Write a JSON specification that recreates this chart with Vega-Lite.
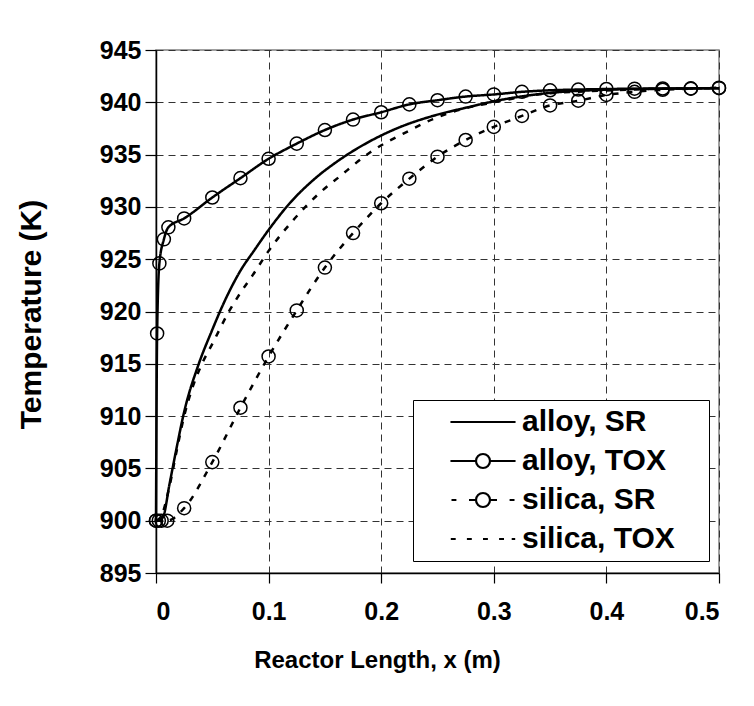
{
  "$schema": "https://vega.github.io/schema/vega-lite/v6.json",
  "width": 563,
  "height": 523,
  "autosize": "none",
  "padding": {"left": 156, "top": 50, "right": 35, "bottom": 133},
  "background": "white",
  "config": {
    "font": "Liberation Sans",
    "view": {"stroke": "#808080", "strokeWidth": 1.5},
    "axis": {
      "labelFont": "Liberation Sans",
      "labelFontWeight": "bold",
      "labelColor": "black",
      "titleFont": "Liberation Sans",
      "titleFontWeight": "bold",
      "titleColor": "black",
      "domainColor": "black",
      "domainWidth": 1.5,
      "tickColor": "black",
      "tickWidth": 1.2,
      "grid": true,
      "gridColor": "#333333",
      "gridDash": [7, 5],
      "gridWidth": 1
    },
    "legend": {"labelFont": "Liberation Sans"}
  },
  "data": {
    "values": [
      {"series": "alloy, SR", "x": 0, "T": 900},
      {"series": "alloy, SR", "x": 0.006, "T": 900.3},
      {"series": "alloy, SR", "x": 0.012, "T": 903.5},
      {"series": "alloy, SR", "x": 0.018, "T": 906.8},
      {"series": "alloy, SR", "x": 0.025, "T": 910.4},
      {"series": "alloy, SR", "x": 0.038, "T": 915.0},
      {"series": "alloy, SR", "x": 0.049, "T": 918.0},
      {"series": "alloy, SR", "x": 0.061, "T": 921.0},
      {"series": "alloy, SR", "x": 0.075, "T": 923.9},
      {"series": "alloy, SR", "x": 0.0876, "T": 925.9},
      {"series": "alloy, SR", "x": 0.1, "T": 927.8},
      {"series": "alloy, SR", "x": 0.12, "T": 930.5},
      {"series": "alloy, SR", "x": 0.14, "T": 932.6},
      {"series": "alloy, SR", "x": 0.163, "T": 934.5},
      {"series": "alloy, SR", "x": 0.187, "T": 936.1},
      {"series": "alloy, SR", "x": 0.216, "T": 937.6},
      {"series": "alloy, SR", "x": 0.246, "T": 938.7},
      {"series": "alloy, SR", "x": 0.276, "T": 939.5},
      {"series": "alloy, SR", "x": 0.305, "T": 940.2},
      {"series": "alloy, SR", "x": 0.35, "T": 940.9},
      {"series": "alloy, SR", "x": 0.4, "T": 941.2},
      {"series": "alloy, SR", "x": 0.45, "T": 941.3},
      {"series": "alloy, SR", "x": 0.5, "T": 941.35},

      {"series": "alloy, TOX", "x": 0, "T": 900},
      {"series": "alloy, TOX", "x": 0.001, "T": 917.9},
      {"series": "alloy, TOX", "x": 0.003, "T": 924.6},
      {"series": "alloy, TOX", "x": 0.007, "T": 926.9},
      {"series": "alloy, TOX", "x": 0.011, "T": 928.05},
      {"series": "alloy, TOX", "x": 0.025, "T": 928.9},
      {"series": "alloy, TOX", "x": 0.05, "T": 930.9},
      {"series": "alloy, TOX", "x": 0.075, "T": 932.75},
      {"series": "alloy, TOX", "x": 0.1, "T": 934.6},
      {"series": "alloy, TOX", "x": 0.125, "T": 936.05},
      {"series": "alloy, TOX", "x": 0.15, "T": 937.35},
      {"series": "alloy, TOX", "x": 0.175, "T": 938.35},
      {"series": "alloy, TOX", "x": 0.2, "T": 939.05},
      {"series": "alloy, TOX", "x": 0.225, "T": 939.8},
      {"series": "alloy, TOX", "x": 0.25, "T": 940.2},
      {"series": "alloy, TOX", "x": 0.275, "T": 940.55},
      {"series": "alloy, TOX", "x": 0.3, "T": 940.75},
      {"series": "alloy, TOX", "x": 0.325, "T": 941.0},
      {"series": "alloy, TOX", "x": 0.35, "T": 941.15},
      {"series": "alloy, TOX", "x": 0.375, "T": 941.22},
      {"series": "alloy, TOX", "x": 0.4, "T": 941.27},
      {"series": "alloy, TOX", "x": 0.425, "T": 941.3},
      {"series": "alloy, TOX", "x": 0.45, "T": 941.32},
      {"series": "alloy, TOX", "x": 0.475, "T": 941.33},
      {"series": "alloy, TOX", "x": 0.5, "T": 941.35},

      {"series": "silica, SR", "x": 0, "T": 900},
      {"series": "silica, SR", "x": 0.0025, "T": 900},
      {"series": "silica, SR", "x": 0.005, "T": 900},
      {"series": "silica, SR", "x": 0.01, "T": 900},
      {"series": "silica, SR", "x": 0.025, "T": 901.2},
      {"series": "silica, SR", "x": 0.05, "T": 905.6},
      {"series": "silica, SR", "x": 0.075, "T": 910.8},
      {"series": "silica, SR", "x": 0.1, "T": 915.7},
      {"series": "silica, SR", "x": 0.125, "T": 920.1},
      {"series": "silica, SR", "x": 0.15, "T": 924.2},
      {"series": "silica, SR", "x": 0.175, "T": 927.5},
      {"series": "silica, SR", "x": 0.2, "T": 930.35},
      {"series": "silica, SR", "x": 0.225, "T": 932.7},
      {"series": "silica, SR", "x": 0.25, "T": 934.8},
      {"series": "silica, SR", "x": 0.275, "T": 936.4},
      {"series": "silica, SR", "x": 0.3, "T": 937.65},
      {"series": "silica, SR", "x": 0.325, "T": 938.7},
      {"series": "silica, SR", "x": 0.35, "T": 939.7},
      {"series": "silica, SR", "x": 0.375, "T": 940.15},
      {"series": "silica, SR", "x": 0.4, "T": 940.7},
      {"series": "silica, SR", "x": 0.425, "T": 941.0},
      {"series": "silica, SR", "x": 0.45, "T": 941.2},
      {"series": "silica, SR", "x": 0.475, "T": 941.3},
      {"series": "silica, SR", "x": 0.5, "T": 941.4},

      {"series": "silica, TOX", "x": 0, "T": 900},
      {"series": "silica, TOX", "x": 0.004, "T": 900.3},
      {"series": "silica, TOX", "x": 0.012, "T": 903.3},
      {"series": "silica, TOX", "x": 0.018, "T": 906.5},
      {"series": "silica, TOX", "x": 0.025, "T": 910.0},
      {"series": "silica, TOX", "x": 0.032, "T": 912.6},
      {"series": "silica, TOX", "x": 0.04, "T": 914.8},
      {"series": "silica, TOX", "x": 0.0505, "T": 917.0},
      {"series": "silica, TOX", "x": 0.0653, "T": 920.1},
      {"series": "silica, TOX", "x": 0.0757, "T": 921.9},
      {"series": "silica, TOX", "x": 0.086, "T": 923.5},
      {"series": "silica, TOX", "x": 0.0994, "T": 925.7},
      {"series": "silica, TOX", "x": 0.1216, "T": 928.7},
      {"series": "silica, TOX", "x": 0.145, "T": 931.3},
      {"series": "silica, TOX", "x": 0.163, "T": 932.9},
      {"series": "silica, TOX", "x": 0.19, "T": 935.2},
      {"series": "silica, TOX", "x": 0.225, "T": 937.3},
      {"series": "silica, TOX", "x": 0.246, "T": 938.4},
      {"series": "silica, TOX", "x": 0.27, "T": 939.3},
      {"series": "silica, TOX", "x": 0.3, "T": 940.0},
      {"series": "silica, TOX", "x": 0.344, "T": 940.8},
      {"series": "silica, TOX", "x": 0.394, "T": 941.1},
      {"series": "silica, TOX", "x": 0.45, "T": 941.3},
      {"series": "silica, TOX", "x": 0.5, "T": 941.35}
    ]
  },
  "layer": [
    {
      "mark": {"type": "line", "interpolate": "monotone", "strokeWidth": 2.5, "color": "black"},
      "encoding": {
        "x": {
          "field": "x", "type": "quantitative",
          "scale": {"domain": [0, 0.5], "nice": false},
          "axis": {
            "values": [0, 0.1, 0.2, 0.3, 0.4, 0.5],
            "labelExpr": "datum.value == 0 ? '0' : format(datum.value, '.1f')",
            "labelFontSize": 25,
            "labelPadding": 16,
            "tickSize": 10,
            "title": "Reactor Length, x (m)",
            "titleFontSize": 24,
            "titleX": 221,
            "titleY": 87,
            "titleBaseline": "middle",
            "titleAlign": "center"
          }
        },
        "y": {
          "field": "T", "type": "quantitative",
          "scale": {"domain": [895, 945], "nice": false, "zero": false},
          "axis": {
            "values": [895, 900, 905, 910, 915, 920, 925, 930, 935, 940, 945],
            "labelFontSize": 25,
            "labelPadding": 4,
            "tickSize": 11,
            "title": "Temperature (K)",
            "titleFontSize": 30,
            "titleAngle": -90,
            "titleX": -125,
            "titleY": 264,
            "titleBaseline": "middle",
            "titleAlign": "center"
          }
        },
        "strokeDash": {
          "field": "series", "type": "nominal",
          "sort": "ascending",
          "scale": {"range": [[1, 0], [1, 0], [6, 8], [6, 8]]},
          "legend": null
        }
      }
    },
    {
      "transform": [{"filter": "datum.series === 'alloy, TOX' || datum.series === 'silica, SR'"}],
      "mark": {"type": "point", "shape": "circle", "filled": false, "size": 170, "stroke": "black", "strokeWidth": 1.5, "opacity": 1},
      "encoding": {
        "x": {"field": "x", "type": "quantitative"},
        "y": {"field": "T", "type": "quantitative"}
      }
    },
    {
      "mark": {"type": "point", "filled": false, "size": 196, "stroke": "black", "strokeWidth": 2.2, "strokeOpacity": 0},
      "encoding": {
        "x": {"field": "x", "type": "quantitative"},
        "y": {"field": "T", "type": "quantitative"},
        "shape": {
          "field": "series", "type": "nominal",
          "scale": {
            "domain": ["alloy, SR", "alloy, TOX", "silica, SR", "silica, TOX"],
            "range": [
              "M-4.65,0L4.65,0",
              "M-4.65,0L-1,0M1,0L4.65,0M1,0A1,1 0 1,1 -1,0A1,1 0 1,1 1,0Z",
              "M-4.5,0L-3.8,0M-2,0L-1,0M1,0L2,0M3.8,0L4.5,0M1,0A1,1 0 1,1 -1,0A1,1 0 1,1 1,0Z",
              "M-4.6,0L-3.9,0M-2.3,0L-1.6,0M0,0L0.7,0M2.3,0L3,0M4.1,0L4.6,0"
            ]
          },
          "legend": {
            "orient": "none",
            "legendX": 257,
            "legendY": 350,
            "title": " ",
            "titleOrient": "right",
            "titleFontSize": 8,
            "titlePadding": 27,
            "padding": 7,
            "strokeColor": "black",
            "fillColor": "white",
            "labelFontSize": 30,
            "labelFontWeight": "bold",
            "labelColor": "black",
            "symbolOpacity": 1,
            "symbolStrokeColor": "black",
            "symbolStrokeWidth": 2.2,
            "symbolSize": 196,
            "symbolOffset": 48,
            "labelOffset": 24,
            "rowPadding": 9,
            "encode": {"symbols": {"strokeOpacity": {"value": 1}, "opacity": {"value": 1}}}
          }
        }
      }
    }
  ]
}
